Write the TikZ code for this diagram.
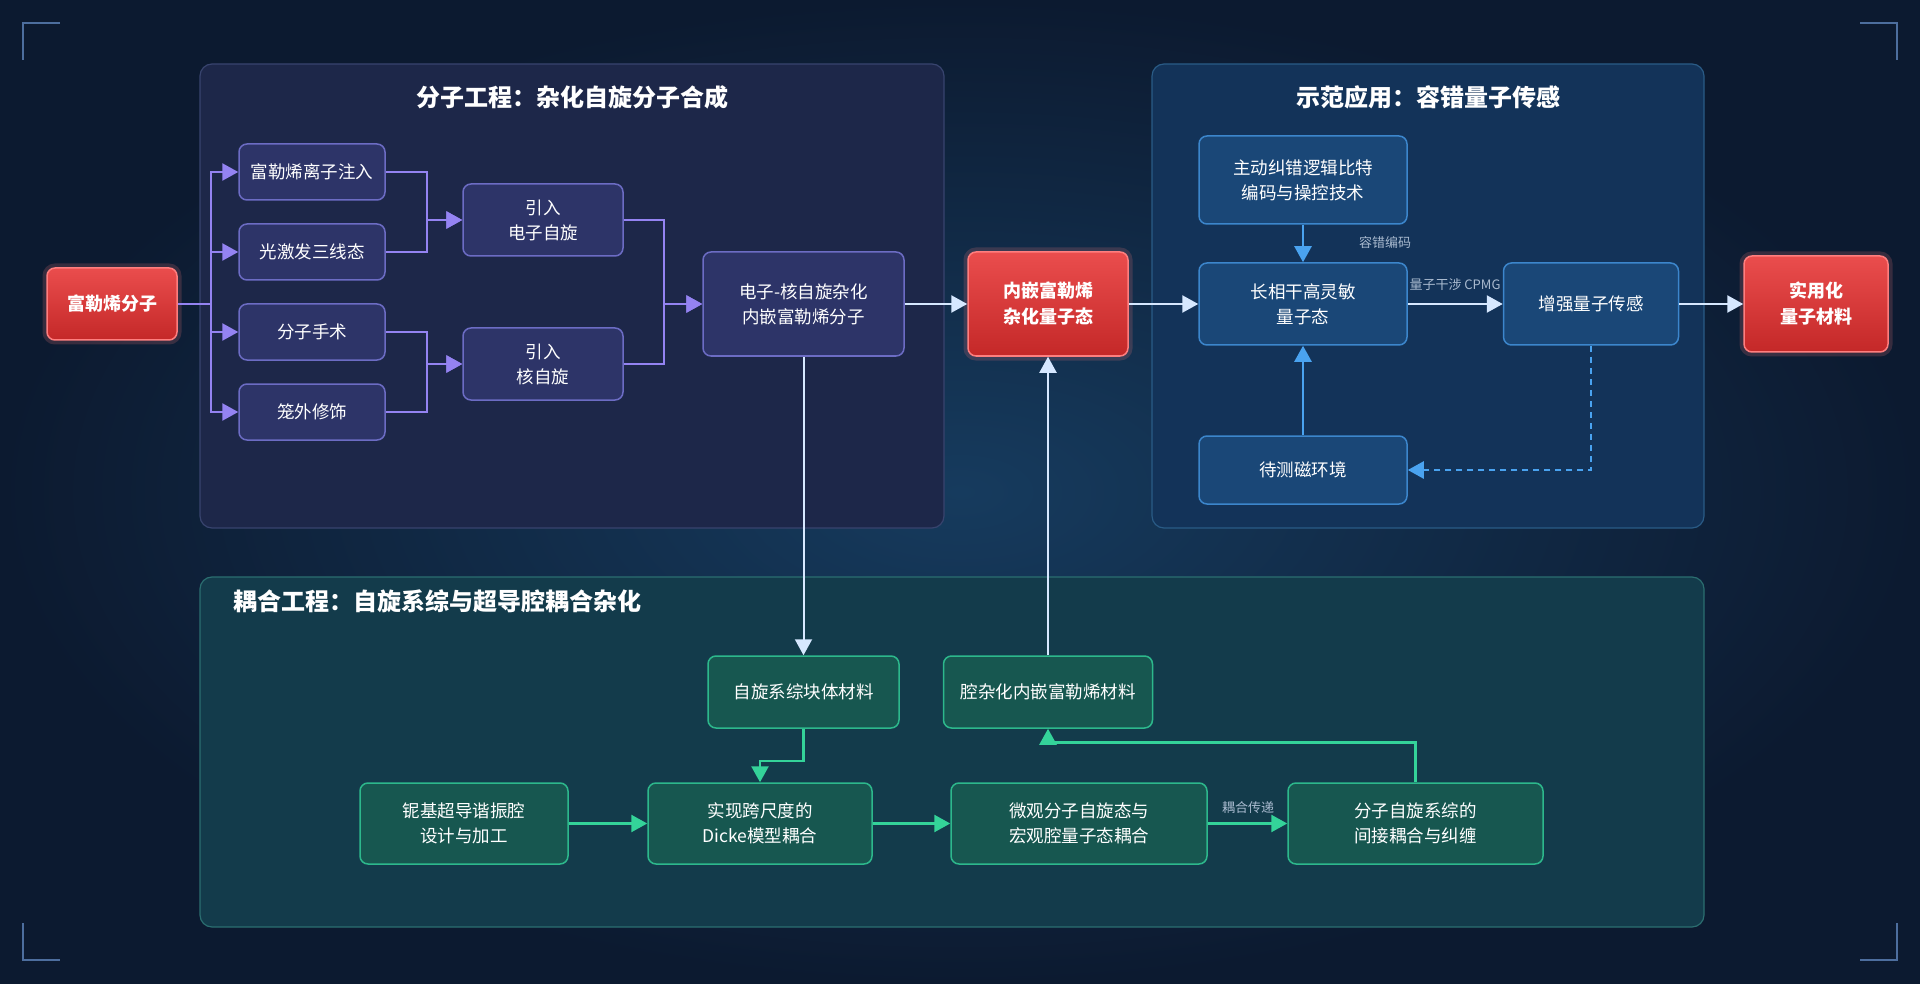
\documentclass[tikz,border=0pt]{standalone}
\usepackage{fontspec}
\setmainfont{Noto Sans CJK SC}
\usetikzlibrary{arrows.meta}

\definecolor{bgdark}{HTML}{0C1A30}
\definecolor{bglight}{HTML}{163B5E}
\definecolor{molfill}{HTML}{1D2749}
\definecolor{molline}{HTML}{38446E}
\definecolor{appfill}{HTML}{133359}
\definecolor{appline}{HTML}{2A5B86}
\definecolor{cplfill}{HTML}{133B4B}
\definecolor{cplline}{HTML}{2B6E70}
\definecolor{purfill}{HTML}{2D3468}
\definecolor{purline}{HTML}{6C6CC4}
\definecolor{purarrow}{HTML}{9483F2}
\definecolor{bluefill}{HTML}{1A4777}
\definecolor{blueline}{HTML}{3C86CC}
\definecolor{bluearrow}{HTML}{4AA3F0}
\definecolor{grnfill}{HTML}{175750}
\definecolor{grnline}{HTML}{2DB88C}
\definecolor{grnarrow}{HTML}{34D399}
\definecolor{redtop}{HTML}{EA4D4D}
\definecolor{redbot}{HTML}{C42828}
\definecolor{redline}{HTML}{FF7E7E}
\definecolor{lightarrow}{HTML}{D6E8FF}
\definecolor{labelgray}{HTML}{A9BACF}
\definecolor{cornerline}{HTML}{4D6E9E}

\tikzset{
  box/.style={rounded corners=8pt, align=center, text=white, inner sep=0pt,
    font=\fontsize{17.5}{25}\selectfont, line width=1.5pt},
  purbox/.style={box, draw=purline, fill=purfill},
  bluebox/.style={box, draw=blueline, fill=bluefill},
  grnbox/.style={box, draw=grnline, fill=grnfill},
  redbox/.style={box, draw=redline, top color=redtop, bottom color=redbot,
    font=\bfseries\fontsize{18}{26}\selectfont,
    preaction={draw=redline, line width=9pt, opacity=0.18}},
  panel/.style={rounded corners=12pt, line width=1.2pt},
  paneltitle/.style={text=white, font=\bfseries\fontsize{24}{28}\selectfont, inner sep=0pt},
  lbl/.style={text=labelgray, font=\fontsize{13}{15}\selectfont, inner sep=1pt},
  tip/.style={-{Triangle[length=16pt,width=17pt]}},
  purarr/.style={draw=purarrow, line width=2.5pt, tip},
  lightarr/.style={draw=lightarrow, line width=2.5pt, tip},
  bluearr/.style={draw=bluearrow, line width=2.5pt, tip},
  grnarr/.style={draw=grnarrow, line width=2.5pt, tip},
  corner/.style={draw=cornerline, line width=2pt}
}

\begin{document}
\begin{tikzpicture}[x=1pt, y=-1pt]
    \useasboundingbox (0,0) rectangle (1920,984);

    % Draw the background
    \fill[bgdark] (0,0) rectangle (1920,984);
    \shade[inner color=bglight, outer color=bgdark] (0,0) rectangle (1920,984);

    % Draw the corner brackets
    \foreach \cx/\cy/\sx/\sy in {23/23/1/1, 1897/23/-1/1, 23/960/1/-1, 1897/960/-1/-1}
        \draw[corner] (\cx,\cy+\sy*37) -- (\cx,\cy) -- (\cx+\sx*37,\cy);

    % Draw the panels
    \draw[panel, draw=molline, fill=molfill] (200,64) rectangle (944,528);
    \draw[panel, draw=appline, fill=appfill] (1152,64) rectangle (1704,528);
    \draw[panel, draw=cplline, fill=cplfill] (200,577) rectangle (1704,927);

    \node[paneltitle] (molTitle) at (572,97) {分子工程：杂化自旋分子合成};
    \node[paneltitle] (appTitle) at (1428,97) {示范应用：容错量子传感};
    \node[paneltitle, anchor=west] (cplTitle) at (233,601) {耦合工程：自旋系综与超导腔耦合杂化};

    % Molecular engineering
    \node[redbox, minimum width=130pt, minimum height=72pt] (mol) at (112,304) {富勒烯分子};
    \foreach \name/\y/\txt in {inj/172/富勒烯离子注入, trip/252/光激发三线态, surg/332/分子手术, exo/412/笼外修饰}
        \node[purbox, minimum width=146pt, minimum height=56pt] (\name) at (312,\y) {\txt};
    \node[purbox, minimum width=160pt, minimum height=72pt] (esp) at (543,220) {引入\\电子自旋};
    \node[purbox, minimum width=160pt, minimum height=72pt] (nsp) at (543,364) {引入\\核自旋};
    \node[purbox, minimum width=201pt, minimum height=104pt] (hyb) at (803.5,304) {电子-核自旋杂化\\内嵌富勒烯分子};

    \coordinate (trunk) at (211,304);
    \coordinate (eMerge) at (427,220);
    \coordinate (nMerge) at (427,364);
    \coordinate (hMerge) at (664,304);

    \foreach \name in {inj,trip,surg,exo}
        \draw[purarr] (mol.east) -- (trunk) |- (\name.west);
    \foreach \name in {inj,trip}
        \draw[purarr] (\name.east) -| (eMerge) -- (esp.west);
    \foreach \name in {surg,exo}
        \draw[purarr] (\name.east) -| (nMerge) -- (nsp.west);
    \foreach \name in {esp,nsp}
        \draw[purarr] (\name.east) -| (hMerge) -- (hyb.west);

    % Demonstration application
    \node[redbox, minimum width=160pt, minimum height=104pt] (qst) at (1048,304) {内嵌富勒烯\\杂化量子态};
    \node[bluebox, minimum width=208pt, minimum height=88pt] (qec) at (1303,180) {主动纠错逻辑比特\\编码与操控技术};
    \node[bluebox, minimum width=208pt, minimum height=82pt] (coh) at (1303,304) {长相干高灵敏\\量子态};
    \node[bluebox, minimum width=208pt, minimum height=68pt] (env) at (1303,470) {待测磁环境};
    \node[bluebox, minimum width=175pt, minimum height=82pt] (sens) at (1591,304) {增强量子传感};
    \node[redbox, minimum width=144pt, minimum height=96pt] (app) at (1816,304) {实用化\\量子材料};

    \draw[lightarr] (hyb.east) -- (qst.west);
    \draw[lightarr] (qst.east) -- (coh.west);
    \draw[lightarr] (coh.east) -- (sens.west);
    \draw[lightarr] (sens.east) -- (app.west);
    \draw[bluearr] (qec.south) -- (coh.north);
    \draw[bluearr] (env.north) -- (coh.south);
    \draw[bluearr, dash pattern=on 6pt off 5pt] (sens.south) |- (env.east);

    \node[lbl] (qecLabel) at (1385,243) {容错编码};
    \node[lbl] (cpmgLabel) at (1455,285) {量子干涉 CPMG};

    % Coupling engineering
    \node[grnbox, minimum width=191pt, minimum height=72pt] (bulk) at (803.5,692) {自旋系综块体材料};
    \node[grnbox, minimum width=209pt, minimum height=72pt] (cav) at (1048,692) {腔杂化内嵌富勒烯材料};
    \node[grnbox, minimum width=208pt, minimum height=81pt] (nb) at (464,823.5) {铌基超导谐振腔\\设计与加工};
    \node[grnbox, minimum width=224pt, minimum height=81pt] (dicke) at (760,823.5) {实现跨尺度的\\Dicke模型耦合};
    \node[grnbox, minimum width=256pt, minimum height=81pt] (micro) at (1079,823.5) {微观分子自旋态与\\宏观腔量子态耦合};
    \node[grnbox, minimum width=255pt, minimum height=81pt] (ent) at (1415.5,823.5) {分子自旋系综的\\间接耦合与纠缠};

    \draw[lightarr, line width=2pt] (hyb.south) -- (bulk.north);
    \draw[lightarr, line width=2pt] (cav.north) -- (qst.south);
    \draw[grnarr] (bulk.south) -- ++(0,32) -| (dicke.north);
    \draw[grnarr] (nb.east) -- (dicke.west);
    \draw[grnarr] (dicke.east) -- (micro.west);
    \draw[grnarr] (micro.east) -- (ent.west);
    \draw[grnarr] (ent.north) -- ++(0,-40) -| (cav.south);

    \node[lbl] (cplLabel) at (1248,808) {耦合传递};

\end{tikzpicture}
\end{document}
